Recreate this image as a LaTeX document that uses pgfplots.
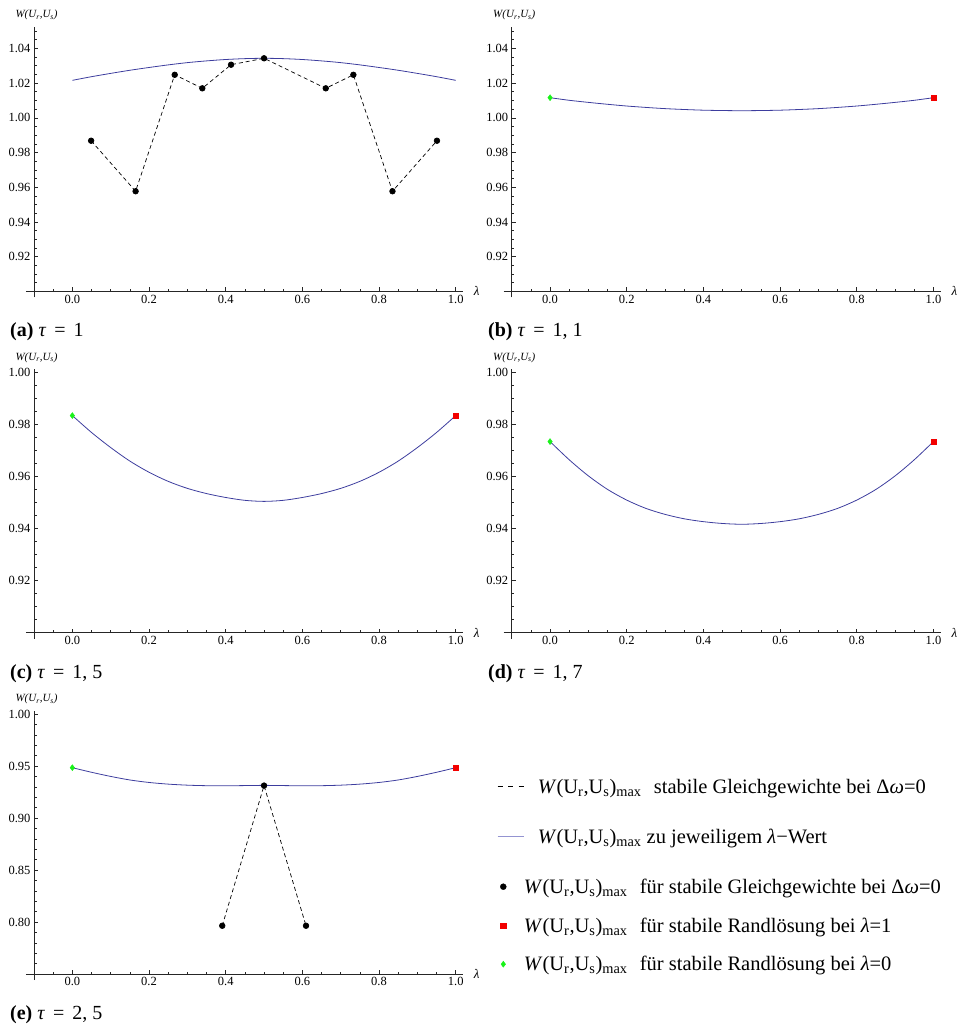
\documentclass[border=0pt]{standalone}
\usepackage{fontspec}
\setmainfont{Liberation Serif}
\usepackage{pgfplots}
\pgfplotsset{compat=1.18}
\definecolor{curveblue}{rgb}{0.24,0.24,0.62}
\definecolor{legblue}{rgb}{0.58,0.58,0.82}
\definecolor{mgreen}{rgb}{0.1,0.95,0.1}
\definecolor{mred}{rgb}{0.95,0,0}
\newcommand{\Wmax}{\textit{W}(U\textsubscript{r},U\textsubscript{s})\textsubscript{max}}
\newcommand{\capt}[2]{\textbf{(#1)} \textit{τ}\hspace{0.4em}=\hspace{0.4em}#2}
\pgfplotsset{
  panel/.style={
    scale only axis, width=429.4pt,
    xmin=-0.1, xmax=1.02,
    axis x line=bottom, axis y line=left,
    axis line style={-, line width=0.7pt, black!85},
    x axis line style={shorten <=-8pt},
    y axis line style={shorten <=-6pt},
    tick align=inside,
    major tick length=4pt, minor tick length=2.5pt,
    every tick/.style={black!85, line width=0.6pt},
    xtick={0,0.2,0.4,0.6,0.8,1},
    minor xtick={-0.05,0.05,0.1,0.15,0.25,0.3,0.35,0.45,0.5,0.55,0.65,0.7,0.75,0.85,0.9,0.95},
    x tick label style={/pgf/number format/fixed,/pgf/number format/fixed zerofill,/pgf/number format/precision=1},
    y tick label style={/pgf/number format/fixed,/pgf/number format/fixed zerofill,/pgf/number format/precision=2},
    /pgf/number format/assume math mode=true,
    tick label style={font=\fontsize{12.5}{14}\selectfont},
    clip=false,
    xlabel={\textit{λ}},
    every axis x label/.style={at={(rel axis cs:1,0)}, anchor=west, xshift=7pt, font=\fontsize{13}{15}\selectfont},
    ylabel={\textit{W(U\textsubscript{r},U\textsubscript{s})}},
    every axis y label/.style={at={(rel axis cs:0,1)}, anchor=base west, xshift=-22pt, yshift=9pt, font=\fontsize{11}{13}\selectfont},
  },
  yA/.style={ymin=0.90, ymax=1.0525, height=264.7pt,
    ytick={0.92,0.94,0.96,0.98,1.00,1.02,1.04},
    minor ytick={0.905,0.91,0.915,0.925,0.93,0.935,0.945,0.95,0.955,0.965,0.97,0.975,0.985,0.99,0.995,1.005,1.01,1.015,1.025,1.03,1.035,1.045,1.05}},
  yC/.style={ymin=0.90, ymax=1.0014, height=263.7pt,
    ytick={0.92,0.94,0.96,0.98,1.00},
    minor ytick={0.905,0.91,0.915,0.925,0.93,0.935,0.945,0.95,0.955,0.965,0.97,0.975,0.985,0.99,0.995}},
  yE/.style={ymin=0.75, ymax=1.0032, height=263.3pt,
    ytick={0.80,0.85,0.90,0.95,1.00},
    minor ytick={0.76,0.77,0.78,0.79,0.81,0.82,0.83,0.84,0.86,0.87,0.88,0.89,0.91,0.92,0.93,0.94,0.96,0.97,0.98,0.99}},
  curve/.style={curveblue, line width=0.8pt, no marks, smooth},
  eq/.style={black, line width=0.7pt, dash pattern=on 4pt off 3pt, mark=*, mark size=2.8pt, mark options={solid}},
  gmark/.style={only marks, mark=diamond*, mgreen, mark size=3pt},
  rmark/.style={only marks, mark=square*, mred, mark size=2.7pt},
  lineleg/.style={legend image code/.code={\draw[##1] (0pt,0pt) -- (26pt,0pt);}},
  markleg/.style={legend image code/.code={\path[draw=none,fill=none] (0pt,0pt) -- (26pt,0pt); \draw[##1] plot coordinates {(5.7pt,0pt)};}},
}
\begin{document}
\begin{tikzpicture}
\useasboundingbox (0,-1025pt) rectangle (962pt,0pt);

% (a)
\begin{axis}[panel, yA, at={(34pt,-291.4pt)}, anchor=south west]
\addplot[curve] coordinates {(0,1.0216)(0.05,1.0237)(0.1,1.0256)(0.15,1.0274)(0.2,1.0290)(0.25,1.0305)(0.3,1.0318)(0.35,1.0328)(0.4,1.0336)(0.45,1.0341)(0.5,1.0343)(0.55,1.0341)(0.6,1.0336)(0.65,1.0328)(0.7,1.0318)(0.75,1.0305)(0.8,1.0290)(0.85,1.0274)(0.9,1.0256)(0.95,1.0237)(1,1.0216)};
\addplot[eq] coordinates {(0.049,0.9868)(0.165,0.9577)(0.267,1.0248)(0.339,1.0170)(0.414,1.0306)(0.5,1.0343)(0.661,1.0170)(0.733,1.0248)(0.835,0.9577)(0.951,0.9868)};
\end{axis}

% (b)
\begin{axis}[panel, yA, at={(511.7pt,-291.4pt)}, anchor=south west]
\addplot[curve] coordinates {(0,1.0116)(0.05,1.0101)(0.1,1.0089)(0.15,1.0078)(0.2,1.0068)(0.25,1.0060)(0.3,1.0053)(0.35,1.0048)(0.4,1.0044)(0.45,1.0042)(0.5,1.0041)(0.55,1.0042)(0.6,1.0044)(0.65,1.0048)(0.7,1.0053)(0.75,1.0060)(0.8,1.0068)(0.85,1.0078)(0.9,1.0089)(0.95,1.0101)(1,1.0116)};
\addplot[gmark] coordinates {(0,1.0116)};
\addplot[rmark] coordinates {(1,1.0116)};
\end{axis}

% (c)
\begin{axis}[panel, yC, at={(34pt,-632.7pt)}, anchor=south west]
\addplot[curve] coordinates {(0,0.9835)(0.05,0.9770)(0.1,0.9712)(0.15,0.9660)(0.2,0.9617)(0.25,0.9582)(0.3,0.9555)(0.35,0.9535)(0.4,0.9520)(0.45,0.9509)(0.5,0.9505)(0.55,0.9509)(0.6,0.9520)(0.65,0.9535)(0.7,0.9555)(0.75,0.9582)(0.8,0.9617)(0.85,0.9660)(0.9,0.9712)(0.95,0.9770)(1,0.9835)};
\addplot[gmark] coordinates {(0,0.9835)};
\addplot[rmark] coordinates {(1,0.9835)};
\end{axis}

% (d)
\begin{axis}[panel, yC, at={(511.7pt,-632.7pt)}, anchor=south west]
\addplot[curve] coordinates {(0,0.9735)(0.05,0.9665)(0.1,0.9603)(0.15,0.9551)(0.2,0.9510)(0.25,0.9478)(0.3,0.9455)(0.35,0.9438)(0.4,0.9427)(0.45,0.9420)(0.5,0.9417)(0.55,0.9420)(0.6,0.9427)(0.65,0.9438)(0.7,0.9455)(0.75,0.9478)(0.8,0.9510)(0.85,0.9551)(0.9,0.9603)(0.95,0.9665)(1,0.9735)};
\addplot[gmark] coordinates {(0,0.9735)};
\addplot[rmark] coordinates {(1,0.9735)};
\end{axis}

% (e)
\begin{axis}[panel, yE, at={(34pt,-974pt)}, anchor=south west,
  legend cell align=left,
  legend style={at={(axis description cs:1.0782,0.7577)}, anchor=north west, draw=none, fill=none,
    inner sep=0pt, row sep=0pt, column sep=0pt, font=\fontsize{20.5}{24}\selectfont,
    nodes={inner sep=0pt, text depth=, text height=}}]
\addplot[curve, forget plot] coordinates {(0,0.9484)(0.05,0.9440)(0.1,0.9400)(0.15,0.9366)(0.2,0.9342)(0.25,0.9326)(0.3,0.9316)(0.35,0.9311)(0.4,0.9310)(0.45,0.9312)(0.5,0.9314)(0.55,0.9312)(0.6,0.9310)(0.65,0.9311)(0.7,0.9316)(0.75,0.9326)(0.8,0.9342)(0.85,0.9366)(0.9,0.9400)(0.95,0.9440)(1,0.9484)};
\addplot[eq, forget plot] coordinates {(0.391,0.7964)(0.5,0.9312)(0.6095,0.7964)};
\addplot[gmark, forget plot] coordinates {(0,0.9484)};
\addplot[rmark, forget plot] coordinates {(1,0.9484)};
\addlegendimage{lineleg, black, dash pattern=on 5pt off 5.5pt, line width=0.8pt}
\addlegendentry{\hspace{14pt}\Wmax\hspace{0.6em}stabile Gleichgewichte bei Δ\textit{ω}=0\rule[-5.5pt]{0pt}{24pt}}
\addlegendimage{lineleg, legblue, line width=0.8pt}
\addlegendentry{\hspace{14pt}\Wmax{} zu jeweiligem \textit{λ}−Wert\rule[-31.5pt]{0pt}{76pt}}
\addlegendimage{markleg, mark=*, black, mark size=3pt}
\addlegendentry{\Wmax\hspace{0.6em}für stabile Gleichgewichte bei Δ\textit{ω}=0\rule[-5.5pt]{0pt}{24pt}}
\addlegendimage{markleg, mark=square*, mred, mark size=2.7pt}
\addlegendentry{\Wmax\hspace{0.6em}für stabile Randlösung bei \textit{λ}=1\rule[-20.5pt]{0pt}{54pt}}
\addlegendimage{markleg, mark=diamond*, mgreen, mark size=3pt}
\addlegendentry{\Wmax\hspace{0.6em}für stabile Randlösung bei \textit{λ}=0\rule[-5pt]{0pt}{23pt}}
\end{axis}

\node[anchor=base west, inner sep=0pt, font=\fontsize{20}{24}\selectfont] at (10pt,-336pt) {\capt{a}{1}};
\node[anchor=base west, inner sep=0pt, font=\fontsize{20}{24}\selectfont] at (488pt,-336pt) {\capt{b}{1, 1}};
\node[anchor=base west, inner sep=0pt, font=\fontsize{20}{24}\selectfont] at (10pt,-678pt) {\capt{c}{1, 5}};
\node[anchor=base west, inner sep=0pt, font=\fontsize{20}{24}\selectfont] at (488pt,-678pt) {\capt{d}{1, 7}};
\node[anchor=base west, inner sep=0pt, font=\fontsize{20}{24}\selectfont] at (10pt,-1019pt) {\capt{e}{2, 5}};
\end{tikzpicture}
\end{document}
